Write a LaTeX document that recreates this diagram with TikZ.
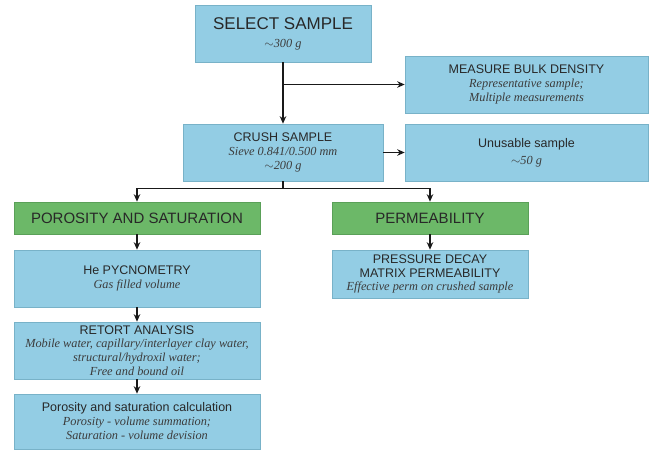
\documentclass[tikz,border=0pt]{standalone}
\usepackage{fontspec}
\setmainfont{Liberation Sans}
\newfontfamily\notefont{Liberation Serif}
\usetikzlibrary{arrows.meta,calc}
\definecolor{boxblue}{RGB}{147,205,228}
\definecolor{boxedge}{RGB}{120,178,200}
\definecolor{boxgreen}{RGB}{108,184,104}
\definecolor{greenedge}{RGB}{90,160,88}
\definecolor{ink}{RGB}{40,40,40}
\definecolor{lineink}{RGB}{25,25,25}
\definecolor{noteink}{RGB}{60,60,60}
\newcommand{\nt}{\notefont\itshape\fontsize{12.3}{13.2}\selectfont\color{noteink}}
\tikzset{
  bluebox/.style={draw=boxedge, line width=0.6pt, fill=boxblue, text=ink,
    align=center, inner sep=0pt, font=\fontsize{12.5}{14}\selectfont},
  greenbox/.style={draw=greenedge, line width=0.6pt, fill=boxgreen, text=ink,
    align=center, inner sep=0pt, font=\fontsize{15}{17}\selectfont},
  flow/.style={draw=lineink, line width=1.1pt, -{Stealth[length=7.5pt,width=6.5pt]}},
  plain/.style={draw=lineink, line width=1.1pt}
}
\begin{document}
\begin{tikzpicture}[x=1pt,y=-1pt]
\useasboundingbox (0,0) rectangle (657,450);

% top of the workflow
\node[bluebox, minimum width=176pt, minimum height=57pt,
      font=\fontsize{17}{19}\selectfont] (select) at (283,33.5)
  {SELECT SAMPLE\\[-1pt]\nt $\sim$300 g};
\node[bluebox, minimum width=243pt, minimum height=57pt] (measure) at (526.5,84.5)
  {MEASURE BULK DENSITY\\[0pt]\nt Representative sample;\\\nt Multiple measurements};
\node[bluebox, minimum width=200pt, minimum height=57pt] (crush) at (283,152.5)
  {CRUSH SAMPLE\\\nt Sieve 0.841/0.500 mm\\\nt $\sim$200 g};
\node[bluebox, minimum width=243pt, minimum height=57pt] (unusable) at (526.5,152.5)
  {Unusable sample\\[3pt]\nt $\sim$50 g};

% two branches
\node[greenbox, minimum width=246pt, minimum height=32pt] (poro) at (137,218)
  {POROSITY AND SATURATION};
\node[greenbox, minimum width=196pt, minimum height=32pt] (perm) at (430,218)
  {PERMEABILITY};

% porosity and saturation branch
\node[bluebox, minimum width=246pt, minimum height=57pt] (pycno) at (137,278.5)
  {He PYCNOMETRY\\\nt Gas filled volume};
\node[bluebox, minimum width=246pt, minimum height=57pt] (retort) at (137,350.5)
  {RETORT ANALYSIS\\[-1.5pt]\nt Mobile water, capillary/interlayer clay water,\\\nt structural/hydroxil water;\\\nt Free and bound oil};
\node[bluebox, minimum width=246pt, minimum height=55pt] (calc) at (137,421.5)
  {Porosity and saturation calculation\\\nt Porosity - volume summation;\\\nt Saturation - volume devision};

% permeability branch
\node[bluebox, minimum width=196pt, minimum height=48pt] (pressure) at (430,274)
  {PRESSURE DECAY\\MATRIX PERMEABILITY\\[-1pt]\nt Effective perm on crushed sample};

% connectors
\draw[flow] (select) -- (crush);
\draw[flow] (select.south |- measure.west) -- (measure.west);
\draw[flow] (crush.east) -- (unusable.west);
\coordinate (split) at ($(crush.south)+(0,7)$);
\draw[plain] (crush.south) -- (split);
\draw[flow] (split) -| (poro.north);
\draw[flow] (split) -| (perm.north);
\draw[flow] (poro) -- (pycno);
\draw[flow] (pycno) -- (retort);
\draw[flow] (retort) -- (calc);
\draw[flow] (perm) -- (pressure);
\end{tikzpicture}
\end{document}
